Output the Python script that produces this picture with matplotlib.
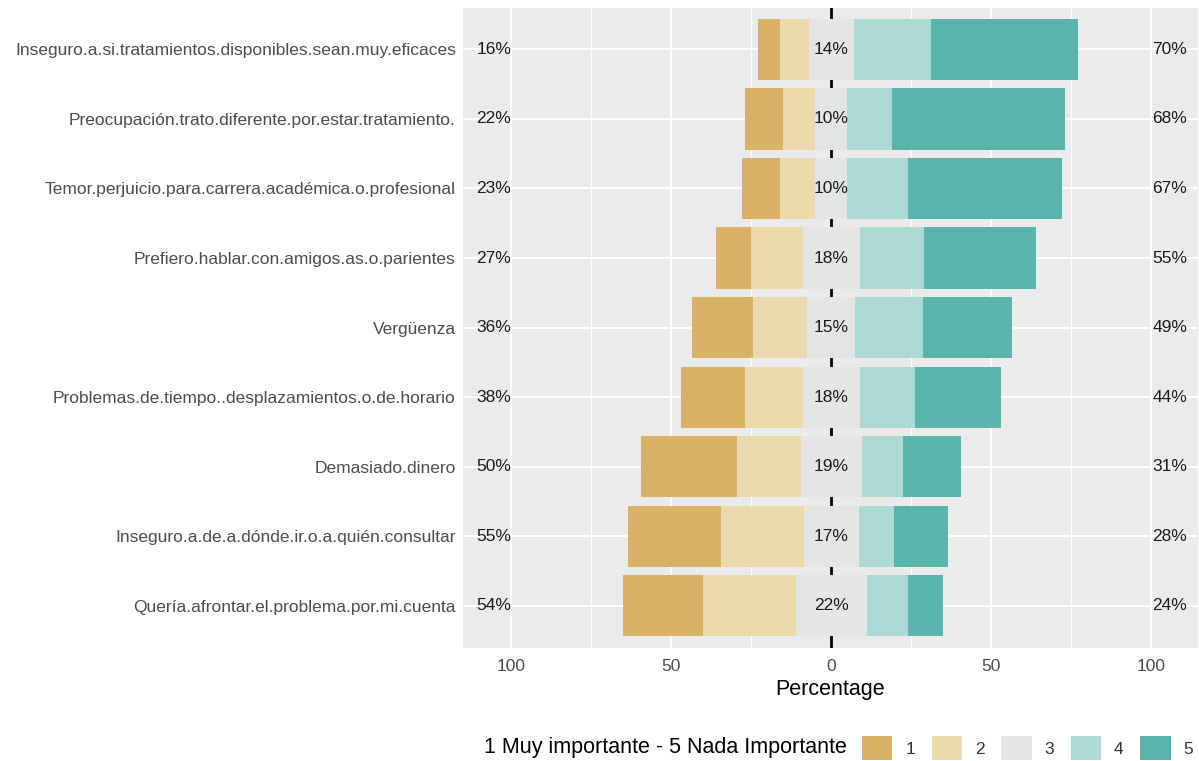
import matplotlib
matplotlib.use("Agg")
import matplotlib.pyplot as plt
from matplotlib.patches import Patch
import numpy as np

plt.rcParams['font.family'] = ['Liberation Sans', 'DejaVu Sans']

items = [
    "Inseguro.a.si.tratamientos.disponibles.sean.muy.eficaces",
    "Preocupación.trato.diferente.por.estar.tratamiento.",
    "Temor.perjuicio.para.carrera.académica.o.profesional",
    "Prefiero.hablar.con.amigos.as.o.parientes",
    "Vergüenza",
    "Problemas.de.tiempo..desplazamientos.o.de.horario",
    "Demasiado.dinero",
    "Inseguro.a.de.a.dónde.ir.o.a.quién.consultar",
    "Quería.afrontar.el.problema.por.mi.cuenta",
]
lvl1 = [7, 12, 12, 11, 19, 20, 30, 29, 25]
lvl2 = [9, 10, 11, 16, 17, 18, 20, 26, 29]
lvl3 = [14, 10, 10, 18, 15, 18, 19, 17, 22]
lvl4 = [24, 14, 19, 20, 21, 17, 13, 11, 13]
lvl5 = [46, 54, 48, 35, 28, 27, 18, 17, 11]
low_lbl = ["16%", "22%", "23%", "27%", "36%", "38%", "50%", "55%", "54%"]
mid_lbl = ["14%", "10%", "10%", "18%", "15%", "18%", "19%", "17%", "22%"]
high_lbl = ["70%", "68%", "67%", "55%", "49%", "44%", "31%", "28%", "24%"]
levels = ["1", "2", "3", "4", "5"]
colors = ["#D8B365", "#EDD9AE", "#E5E5E5", "#ADD9D5", "#5AB4AC"]
legend_title = "1 Muy importante - 5 Nada Importante"

fig = plt.figure(figsize=(11.99, 7.61), dpi=100)
ax = fig.add_axes([0.386, 0.149, 0.613, 0.841])
ax.set_facecolor("#EBEBEB")

n = len(items)
y = np.arange(n)[::-1]  # first item at top
l1 = np.array(lvl1, float); l2 = np.array(lvl2, float); l3 = np.array(lvl3, float)
l4 = np.array(lvl4, float); l5 = np.array(lvl5, float)
h = 0.88

ax.axvline(0, color="black", lw=2, zorder=1.5)
# left side
ax.barh(y, -l3 / 2, height=h, color=colors[2], zorder=2)
ax.barh(y, -l2, left=-l3 / 2, height=h, color=colors[1], zorder=2)
ax.barh(y, -l1, left=-l3 / 2 - l2, height=h, color=colors[0], zorder=2)
# right side
ax.barh(y, l3 / 2, height=h, color=colors[2], zorder=2)
ax.barh(y, l4, left=l3 / 2, height=h, color=colors[3], zorder=2)
ax.barh(y, l5, left=l3 / 2 + l4, height=h, color=colors[4], zorder=2)

fs = 12.5
for yi, a, b, c in zip(y, low_lbl, mid_lbl, high_lbl):
    ax.text(-105.5, yi, a, ha="center", va="center", fontsize=fs, color="#1A1A1A", zorder=3)
    ax.text(0, yi, b, ha="center", va="center", fontsize=fs, color="#1A1A1A", zorder=3)
    ax.text(105.8, yi, c, ha="center", va="center", fontsize=fs, color="#1A1A1A", zorder=3)

ax.set_xlim(-115.2, 114.5)
ax.set_ylim(-0.6, n - 0.4)
ax.set_xticks([-100, -50, 0, 50, 100])
ax.set_xticklabels(["100", "50", "0", "50", "100"])
ax.set_xticks([-75, -25, 25, 75], minor=True)
ax.set_yticks(y)
ax.set_yticklabels(items)
ax.grid(True, which="major", color="white", lw=1.4, zorder=0)
ax.grid(True, which="minor", axis="x", color="white", lw=0.7, zorder=0)
ax.set_axisbelow(True)
for s in ax.spines.values():
    s.set_visible(False)
ax.tick_params(axis="both", which="both", length=0, labelsize=fs, colors="#4D4D4D", pad=5)
ax.tick_params(axis="x", pad=8)
ax.set_xlabel("Percentage", fontsize=15.5, color="black", labelpad=4)

handles = [Patch(facecolor=c, edgecolor="none", label=l) for c, l in zip(colors, levels)]
fig.text(484 / 1199, 1 - 748 / 761, legend_title, fontsize=15.5, va="center", ha="left")
leg = fig.legend(handles=handles, loc="center left", bbox_to_anchor=(862 / 1199, 1 - 748 / 761),
                 ncol=5, frameon=False, fontsize=fs, handlelength=1.75, handleheight=1.75,
                 columnspacing=0.95, handletextpad=0.75, borderaxespad=0, borderpad=0)
for t in leg.get_texts():
    t.set_color("#333333")

fig.savefig("out.png", dpi=100)
